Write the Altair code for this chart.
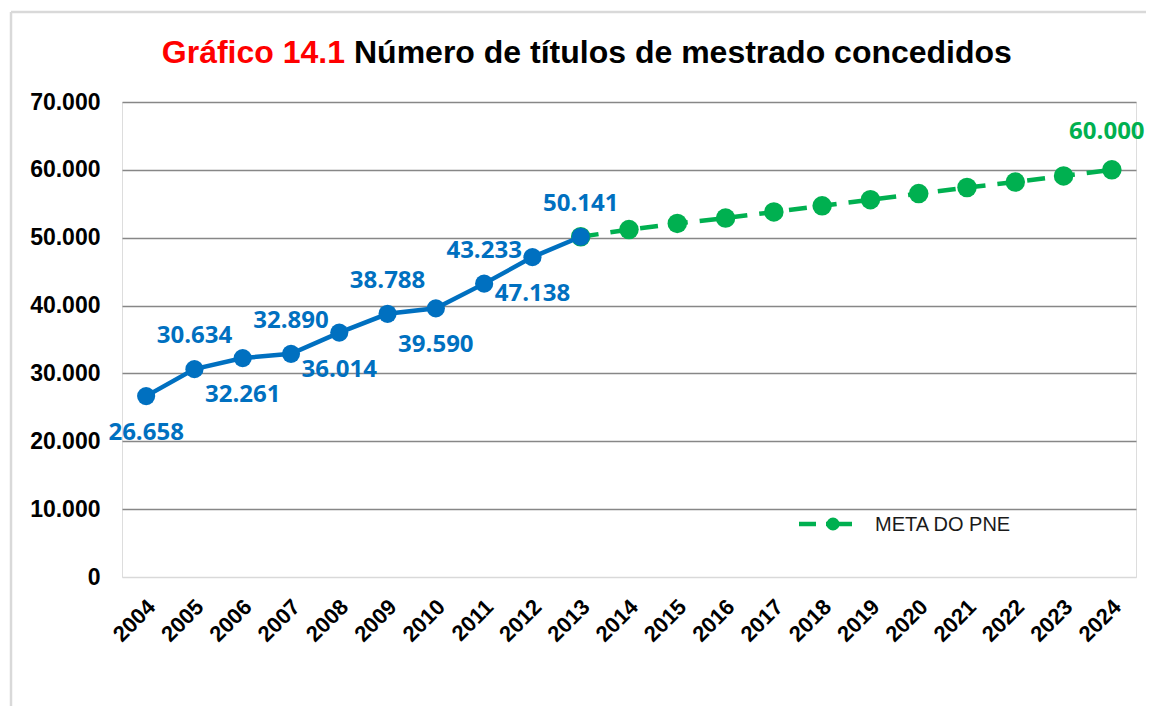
import altair as alt
import pandas as pd

# ---- data ----
years_obs = ["2004", "2005", "2006", "2007", "2008", "2009", "2010", "2011", "2012", "2013"]
titulos = [26658, 30634, 32261, 32890, 36014, 38788, 39590, 43233, 47138, 50141]

years_meta = ["2013", "2014", "2015", "2016", "2017", "2018", "2019", "2020", "2021", "2022", "2023", "2024"]
meta = [50141, 51200, 52100, 52900, 53800, 54700, 55600, 56500, 57400, 58200, 59100, 60000]

all_years = [str(y) for y in range(2004, 2025)]
y_ticks = [0, 10000, 20000, 30000, 40000, 50000, 60000, 70000]

title_red = "Gráfico 14.1"
title_black = "Número de títulos de mestrado concedidos"
legend_label = "META DO PNE"

BLUE = "#0070c0"
GREEN = "#00b050"

obs = pd.DataFrame({"ano": years_obs, "valor": titulos})
obs["rotulo"] = [f"{v:,}".replace(",", ".") for v in titulos]
obs["idx"] = list(range(len(years_obs)))
met = pd.DataFrame({"ano": years_meta, "valor": meta})
met["rotulo"] = [f"{v:,}".replace(",", ".") for v in meta]

x_enc = alt.X(
    "ano:O",
    scale=alt.Scale(type="point", padding=0.5, domain=all_years),
    axis=alt.Axis(
        title=None,
        labelAngle=-45,
        labelAlign="right",
        labelBaseline="middle",
        labelFont="Liberation Sans",
        labelFontWeight="bold",
        labelFontSize=22,
        labelColor="#000000",
        labelPadding=26,
        labelOffset=5,
        ticks=False,
        domain=False,
        grid=False,
    ),
)
y_enc = alt.Y(
    "valor:Q",
    scale=alt.Scale(domain=[0, 70000], nice=False),
    axis=alt.Axis(
        title=None,
        values=y_ticks,
        labelExpr="replace(format(datum.value, ','), ',', '.')",
        labelFont="Liberation Sans",
        labelFontWeight="bold",
        labelFontSize=23,
        labelColor="#000000",
        labelPadding=22,
        ticks=False,
        domain=False,
        grid=True,
        gridColor={"condition": {"test": "datum.value === 0", "value": "#d9d9d9"}, "value": "#878787"},
        gridWidth=1.4,
    ),
)

meta_line = alt.Chart(met).mark_line(color=GREEN, strokeWidth=4.5, strokeDash=[18, 12]).encode(x=x_enc, y=y_enc)
meta_pts = alt.Chart(met).mark_point(filled=True, color=GREEN, opacity=1, size=380, shape="circle").encode(x="ano:O", y="valor:Q")
meta_lbl = alt.Chart(met).transform_filter("datum.ano == '2024'").mark_text(
    color=GREEN, font="Open Sans", fontWeight="bold", fontSize=24, dy=-38, dx=-5, baseline="middle"
).encode(x="ano:O", y="valor:Q", text="rotulo:N")

obs_line = alt.Chart(obs).mark_line(color=BLUE, strokeWidth=4.5).encode(x="ano:O", y="valor:Q")
obs_pts = alt.Chart(obs).mark_point(filled=True, color=BLUE, opacity=1, size=330, shape="circle").encode(x="ano:O", y="valor:Q")
lbl_above = alt.Chart(obs).transform_filter("datum.idx % 2 == 1").mark_text(
    color=BLUE, font="Open Sans", fontWeight="bold", fontSize=24, dy=-33, baseline="middle"
).encode(x="ano:O", y="valor:Q", text="rotulo:N")
lbl_below = alt.Chart(obs).transform_filter("datum.idx % 2 == 0").mark_text(
    color=BLUE, font="Open Sans", fontWeight="bold", fontSize=24, dy=37, baseline="middle"
).encode(x="ano:O", y="valor:Q", text="rotulo:N")

one = pd.DataFrame({"k": [0]})

# title (two colours)
t_red = alt.Chart(one).mark_text(
    text=title_red, color="#ff0000", font="Liberation Sans", fontWeight="bold", fontSize=32,
    align="right", baseline="alphabetic"
).encode(x=alt.value(223), y=alt.value(-39))
t_black = alt.Chart(one).mark_text(
    text=title_black, color="#000000", font="Liberation Sans", fontWeight="bold", fontSize=32,
    align="left", baseline="alphabetic"
).encode(x=alt.value(232), y=alt.value(-39))

# manual legend
leg_line = alt.Chart(one).mark_rule(color=GREEN, strokeWidth=4.5, strokeDash=[17, 10, 30]).encode(
    x=alt.value(677), x2=alt.value(730), y=alt.value(422)
)
leg_pt = alt.Chart(one).mark_point(filled=True, color=GREEN, opacity=1, size=170, shape="circle").encode(
    x=alt.value(711), y=alt.value(422)
)
leg_txt = alt.Chart(one).mark_text(
    text=legend_label, color="#1a1a1a", font="Liberation Sans", fontSize=20, align="left", baseline="middle"
).encode(x=alt.value(753), y=alt.value(423))

# outer frame (left and top)
frame_left = alt.Chart(one).mark_rule(color="#d9d9d9", strokeWidth=2.5).encode(
    x=alt.value(-111), y=alt.value(-90), y2=alt.value(660)
)
frame_top = alt.Chart(one).mark_rule(color="#d9d9d9", strokeWidth=2.5).encode(
    x=alt.value(-111), x2=alt.value(1040), y=alt.value(-90)
)

chart = alt.layer(
    meta_line, meta_pts, obs_line, obs_pts, lbl_above, lbl_below, meta_lbl,
    t_red, t_black, leg_line, leg_pt, leg_txt, frame_left, frame_top,
).properties(
    width=1014,
    height=475,
    autosize=alt.AutoSizeParams(type="none"),
    padding={"left": 114, "top": 94, "right": 10, "bottom": 129},
).configure_view(stroke=None).configure(background="#ffffff")

chart.save("out.html", embed_options={"renderer": "svg", "actions": False})
